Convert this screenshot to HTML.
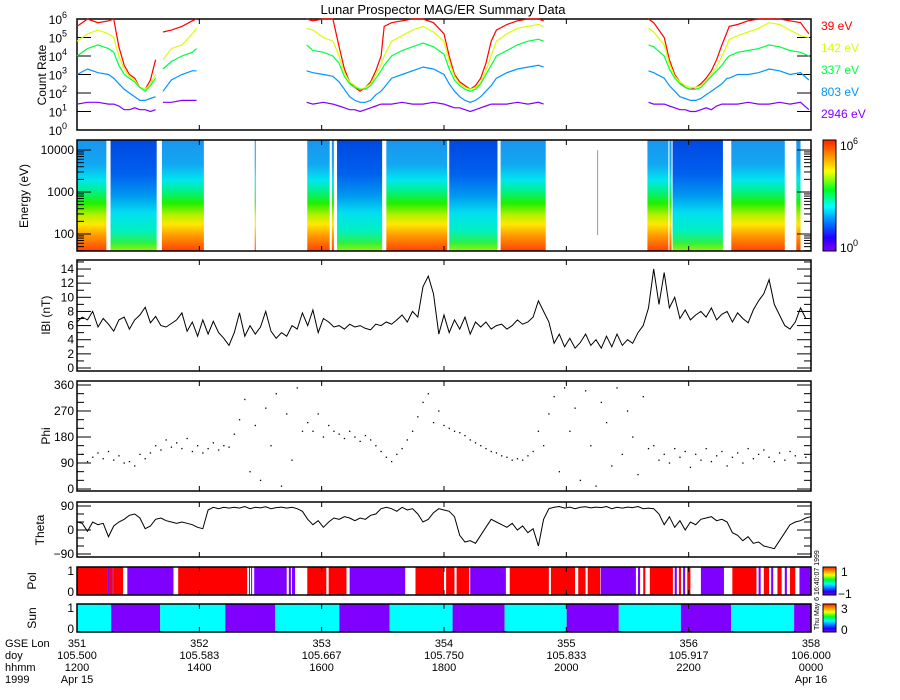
<!DOCTYPE html>
<html><head><meta charset="utf-8"><style>
html,body{margin:0;padding:0;background:#fff}
svg{display:block;font-family:"Liberation Sans",sans-serif}
</style></head><body>
<svg id="chart" width="900" height="700" viewBox="0 0 900 700" xmlns="http://www.w3.org/2000/svg">
<defs>
<linearGradient id="gLight" gradientUnits="userSpaceOnUse" x1="0" y1="140" x2="0" y2="251">
<stop offset="0" stop-color="#1a94ee"/><stop offset="0.22" stop-color="#12a8f2"/><stop offset="0.36" stop-color="#00e6f0"/><stop offset="0.46" stop-color="#00f08a"/><stop offset="0.57" stop-color="#20f000"/><stop offset="0.68" stop-color="#b8f000"/><stop offset="0.76" stop-color="#ffe800"/><stop offset="0.86" stop-color="#ff9a00"/><stop offset="1" stop-color="#ff4400"/>
</linearGradient>
<linearGradient id="gDark" gradientUnits="userSpaceOnUse" x1="0" y1="140" x2="0" y2="251">
<stop offset="0" stop-color="#0048e2"/><stop offset="0.3" stop-color="#0060ee"/><stop offset="0.5" stop-color="#0098f0"/><stop offset="0.66" stop-color="#00e0f0"/><stop offset="0.82" stop-color="#00f0c0"/><stop offset="0.93" stop-color="#30f040"/><stop offset="1" stop-color="#a0f000"/>
</linearGradient>
<linearGradient id="gRain" x1="0" y1="1" x2="0" y2="0">
<stop offset="0" stop-color="#8000ff"/><stop offset="0.12" stop-color="#2000ff"/><stop offset="0.28" stop-color="#0090ff"/><stop offset="0.4" stop-color="#00ffff"/><stop offset="0.55" stop-color="#00ff20"/><stop offset="0.72" stop-color="#ffff00"/><stop offset="0.86" stop-color="#ff9000"/><stop offset="1" stop-color="#ff2000"/>
</linearGradient>
</defs>
</svg>
<script>
// ---------- data ----------
const crTimes=[0,0.1,0.2,0.3,0.35,0.4,0.45,0.5,0.55,0.6,0.65,0.7,0.75,0.78,0.82,0.9,1.0,1.1,1.14,1.2,2.19,2.25,2.35,2.44,2.5,2.55,2.6,2.65,2.7,2.75,2.8,2.85,2.9,2.93,3.0,3.1,3.2,3.3,3.4,3.5,3.55,3.6,3.65,3.7,3.75,3.8,3.85,3.9,3.95,4.0,4.1,4.2,4.3,4.4,4.45,4.5,5.45,5.5,5.6,5.65,5.7,5.75,5.8,5.85,5.9,5.95,6.0,6.05,6.1,6.15,6.2,6.22,6.3,6.4,6.5,6.6,6.7,6.8,6.9,6.98];
const cr39=[5.6,6,5.8,5.9,6,4.5,3.5,3,2.8,2.3,2.2,2.7,3.8,null,5.3,5.4,5.6,5.9,6,null,6,5.9,6,6,4.5,3.3,2.6,2.3,2.1,2.3,2.6,3.2,4,5.6,5.8,5.9,6,6,5.8,5.2,4,3,2.6,2.4,2.2,2.4,2.8,3.6,4.8,5.4,5.7,5.9,6,6,5.9,null,6,5.8,5,3.8,3,2.6,2.3,2.2,2.3,2.5,2.8,3.2,3.8,4.6,5.3,5.6,5.7,5.9,6,6,6,5.9,5.8,5.2];
const cr142=[4.8,5.2,5.4,5.2,5,4,3.3,2.9,2.7,2.3,2.2,2.5,3,null,3.8,4.4,4.6,5.2,5.5,null,5.5,5.4,5,4.8,4,3.1,2.6,2.4,2.2,2.3,2.5,3,3.5,4,4.8,5.1,5.4,5.6,5.3,4.8,3.7,2.9,2.5,2.3,2.2,2.3,2.6,3.2,4,4.8,5.2,5.5,5.6,5.7,5.6,null,5.5,5.3,4.6,3.6,2.9,2.6,2.4,2.3,2.3,2.4,2.7,3,3.4,4,4.6,4.9,5.1,5.3,5.5,5.8,5.7,5.4,5.1,5.0];
const cr337=[4,4.4,4.6,4.4,4.2,3.5,3,2.8,2.6,2.3,2.1,2.4,2.8,null,3.3,3.7,4,4.2,4.4,null,4.6,4.3,4.2,4.0,3.6,2.9,2.5,2.3,2.2,2.2,2.4,2.8,3.2,3.5,4,4.3,4.5,4.7,4.5,4.1,3.3,2.7,2.4,2.2,2.1,2.2,2.5,3,3.5,4,4.3,4.6,4.8,4.9,4.8,null,4.6,4.5,4.0,3.3,2.8,2.5,2.3,2.2,2.2,2.3,2.6,2.9,3.2,3.5,3.9,4.0,4.2,4.3,4.4,4.6,4.5,4.3,4.2,4.0];
const cr803=[3,3.3,3.1,3.0,2.8,2.5,2.2,2.0,1.8,1.6,1.6,1.7,1.8,null,2.1,2.7,3,3.2,3.2,null,3.2,3.1,3.0,2.9,2.6,2.2,1.8,1.6,1.5,1.5,1.6,1.9,2.1,2.3,2.8,3.0,3.2,3.4,3.3,3.0,2.5,2.1,1.8,1.6,1.5,1.6,1.8,2.1,2.4,2.8,3.1,3.3,3.4,3.5,3.4,null,3.2,3.1,2.8,2.4,2.1,1.8,1.7,1.6,1.6,1.7,1.9,2.1,2.3,2.5,2.8,2.8,3.0,3.0,3.1,3.3,3.2,3.0,3.1,2.7];
const cr2946=[1.4,1.5,1.5,1.4,1.4,1.3,1.1,1.1,1.2,1.1,1.1,1.0,1.1,null,1.5,1.5,1.6,1.6,1.6,null,1.5,1.4,1.5,1.4,1.3,1.2,1.1,1.1,1.0,1.1,1.2,1.3,1.4,1.4,1.4,1.5,1.4,1.4,1.5,1.4,1.3,1.2,1.2,1.1,1.0,1.1,1.2,1.3,1.4,1.4,1.4,1.5,1.4,1.5,1.4,null,1.5,1.4,1.4,1.3,1.2,1.1,1.1,1.0,1.0,1.1,1.2,1.1,1.3,1.4,1.4,1.4,1.4,1.5,1.4,1.4,1.5,1.4,1.5,1.1];
const crSeries=[["39 eV","#ff0000",cr39],["142 eV","#d8ff00",cr142],["337 eV","#00ff40",cr337],["803 eV","#0096ff",cr803],["2946 eV","#8000ff",cr2946]];
const specStart=[0,0.32,0.81,1.695,2.196,2.43,2.48,2.95,3.55,4.04,4.96,5.44,5.65,5.68,6.24,6.86];
const specEnd=[0.28,0.76,1.21,1.705,2.41,2.45,2.91,3.53,4.01,4.47,4.97,5.64,5.67,6.16,6.75,6.9];
const specType=["light","dark","light","light","light","light","dark","light","dark","light","line","light","light","dark","light","light"];
const bStep=0.05;
const bVals=[6.5,7.2,6.8,8.0,5.8,7.0,6.2,5.2,6.8,7.2,5.5,6.8,7.5,8.6,6.4,7.3,6.0,5.8,6.3,6.8,7.8,5.2,6.5,4.5,6.8,4.8,6.6,5.0,4.2,3.2,5.0,7.8,4.5,6.0,4.8,5.8,8.0,5.2,4.2,5.0,4.5,6.0,5.5,7.8,6.0,8.2,5.0,7.0,6.5,5.8,6.0,5.5,6.2,5.8,6.0,5.6,5.4,6.2,6.0,6.5,6.2,6.8,7.5,6.5,8.0,7.2,11.5,13.0,10.5,4.8,7.5,5.0,6.8,5.5,7.2,4.8,6.5,5.8,6.5,5.5,6.0,6.2,5.5,6.0,6.8,6.2,6.5,7.2,9.5,8.0,6.5,3.5,4.8,3.0,4.2,2.8,3.6,4.8,3.2,4.0,2.8,4.5,3.0,4.8,3.2,4.0,3.5,5.0,6.0,8.5,14.0,9.0,13.5,8.5,10.0,7.0,8.2,6.8,7.5,8.0,7.2,8.5,6.8,7.6,8.0,6.5,7.8,7.0,6.4,8.2,9.5,10.5,12.5,9.0,7.5,6.0,5.5,6.5,8.5,7.0,7.0];
const phiVals=[100,120,95,110,125,105,130,100,115,90,95,80,120,105,125,150,135,170,145,160,140,175,130,150,125,140,160,135,150,145,190,240,310,60,220,30,280,150,330,10,260,100,350,200,230,200,260,180,220,200,190,175,200,180,165,185,170,150,130,110,95,120,140,170,200,250,300,330,230,270,220,210,200,195,185,170,160,150,140,130,125,115,110,100,105,100,115,130,200,150,260,320,60,350,200,280,30,340,150,10,300,230,80,350,120,270,180,50,320,140,150,100,120,90,140,110,130,75,120,100,140,95,115,130,80,110,125,90,140,105,120,135,110,95,125,100,130,115,90,110,120];
const thetaVals=[30,25,-5,30,20,25,-25,15,30,40,55,60,45,5,15,40,45,35,30,25,30,25,20,10,5,75,85,80,85,82,85,82,88,80,85,83,87,80,84,86,82,85,80,70,40,20,35,10,30,45,40,50,45,35,45,40,55,60,80,85,80,70,85,75,80,60,30,40,65,80,75,70,50,-20,-45,-40,-50,-20,10,40,30,20,10,25,0,15,-10,5,-60,40,80,85,88,82,86,80,85,87,83,86,84,88,80,85,82,86,84,88,80,82,80,60,20,50,10,35,0,30,20,40,45,50,35,40,30,-10,-20,-40,-25,-50,-45,-60,-65,-70,-40,-10,20,30,35,45,50];
const polStart=[0,0.29,0.305,0.34,0.35,0.41,0.48,0.965,1.64,1.66,1.69,2.02,2.05,2.196,2.40,2.6,3.228,3.52,3.62,3.75,4.127,4.52,4.78,4.87,4.995,5.35,5.40,5.463,5.70,5.74,5.78,5.82,5.95,6.25,6.50,6.55,6.62,6.68,6.75,6.80,6.89];
const polEnd=[0.29,0.305,0.34,0.35,0.41,0.44,0.92,1.623,1.65,1.67,2.0,2.04,2.08,2.378,2.57,3.13,3.5,3.6,3.74,4.09,4.5,4.75,4.85,4.99,5.33,5.37,5.42,5.683,5.72,5.76,5.80,5.85,6.17,6.48,6.52,6.60,6.64,6.72,6.77,6.85,7];
const polVals=[1,-1,1,-1,1,1,-1,1,-1,-1,-1,-1,-1,1,1,-1,1,1,1,-1,1,1,1,1,-1,-1,1,1,-1,1,-1,1,-1,1,-1,1,-1,1,-1,1,-1];
const sunBounds=[0,0.325,0.793,1.414,1.891,2.502,2.98,3.582,4.078,4.67,5.167,5.759,6.237,6.839,7];
const sunVals=[1,0,1,0,1,0,1,0,1,0,1,0,1,0];
const tickIdx=[0,1,2,3,4,5,6];
const lonLabels=["351","352","353","354","355","356","358"];
const doyLabels=["105.500","105.583","105.667","105.750","105.833","105.917","106.000"];
const hhmmLabels=["1200","1400","1600","1800","2000","2200","0000"];
const dateLabels=["Apr 15","","","","","","Apr 16"];

// ---------- helpers ----------
const svg=document.getElementById('chart');
const NS='http://www.w3.org/2000/svg';
const X0=77,X1=811;
const xs=t=>X0+t/7*(X1-X0);
function el(tag,attrs,parent){const e=document.createElementNS(NS,tag);for(const k in attrs)e.setAttribute(k,attrs[k]);(parent||svg).appendChild(e);return e;}
function txt(s,x,y,opts,name){const e=el('text',Object.assign({x:x,y:y,'font-size':12,fill:'#000'},opts||{}));e.textContent=s;


return e;}
function gline(x1,y1,x2,y2,g){return el('line',{x1:x1,y1:y1,x2:x2,y2:y2,stroke:'#000','stroke-width':1},g);}

const panels={cr:[19,130],sp:[140,251],b:[260,371],phi:[381,491],th:[502,557],pol:[567,595],sun:[604,632]};
function frame(name,y0,y1){
 const g=el('g',{});
 
 
 el('rect',{x:X0,y:y0,width:X1-X0,height:y1-y0,fill:'none',stroke:'#000','stroke-width':1.5},g);
 tickIdx.forEach(i=>{const x=xs(i*7/6);gline(x,y0,x,y0+5,g);gline(x,y1,x,y1-5,g);});
 return g;
}
function yTicks(g,y0,y1,vals,yf,len){vals.forEach(v=>{const y=yf(v);if(y<y0-0.5||y>y1+0.5)return;gline(X0,y,X0+len,y,g);gline(X1,y,X1-len,y,g);});}

// title
txt("Lunar Prospector MAG/ER Summary Data",443,14,{'text-anchor':'middle','font-size':13},'chart-title');

// ---------- count rate ----------
(function(){
 const [y0,y1]=panels.cr; const yf=v=>y1-v*(y1-y0)/6;
 const g=frame('count-rate',y0,y1);
 yTicks(g,y0,y1,[0,1,2,3,4,5,6],yf,14);
 [0,1,2,3,4,5,6].forEach(d=>{const t=txt("10",62,yf(d)+5,{'text-anchor':'end'},'count-rate-tick-label');const s=el('text',{x:62,y:yf(d)-1,'font-size':9});s.textContent=String(d);
 
 });
 txt("Count Rate",46,75,{'text-anchor':'middle',transform:'rotate(-90 46 75)'},'count-rate-axis-title');
 crSeries.forEach((s,k)=>{
  let d='',pen=false;
  crTimes.forEach((t,i)=>{const v=s[2][i];if(v===null){pen=false;return;}d+=(pen?'L':'M')+xs(t).toFixed(1)+' '+yf(v).toFixed(1);pen=true;});
  const p=el('path',{d:d,fill:'none',stroke:s[1],'stroke-width':1.2});
  
  
  const lt=txt(s[0],821,30+k*22,{fill:s[1]},'legend-entry');
 });
})();

// ---------- spectrogram ----------
(function(){
 const [y0,y1]=panels.sp; const yf=lg=>192-(lg-3)*42;
 specStart.forEach((s,i)=>{
  const tp=specType[i];
  const r=el('rect',{x:xs(s),y:y0,width:Math.max(1,xs(specEnd[i])-xs(s)),height:y1-y0,fill:tp==='dark'?'url(#gDark)':(tp==='line'?'#a0a0a0':'url(#gLight)')});
  if(tp==='line'){r.setAttribute('y',y0+10);r.setAttribute('height',85);}
  
  
 });
 const g=frame('spectrogram',y0,y1);
 const minors=[];[1,2,3,4].forEach(d=>[2,3,4,5,6,7,8,9].forEach(m=>minors.push(d+Math.log10(m))));
 yTicks(g,y0,y1,[2,3,4],yf,14);yTicks(g,y0,y1,minors,yf,7);
 txt("10000",74,yf(4)+4,{'text-anchor':'end'},'energy-tick-label');
 txt("1000",74,yf(3)+4,{'text-anchor':'end'},'energy-tick-label');
 txt("100",74,yf(2)+4,{'text-anchor':'end'},'energy-tick-label');
 txt("Energy (eV)",28,196,{'text-anchor':'middle',transform:'rotate(-90 28 196)'},'energy-axis-title');
 const cb=el('rect',{x:823,y:y0,width:13,height:y1-y0,fill:'url(#gRain)',stroke:'#000','stroke-width':1});
 
 
 txt("10",840,y0+10,{},'colorbar-max-label');txt("6",853,y0+4,{'font-size':9},'colorbar-max-exponent');
 txt("10",840,y1+1,{},'colorbar-min-label');txt("0",853,y1-5,{'font-size':9},'colorbar-min-exponent');
})();

// ---------- |B| ----------
(function(){
 const [y0,y1]=panels.b; const yf=v=>368-v*7.07;
 const g=frame('b-magnitude',y0,y1);
 const maj=[0,2,4,6,8,10,12,14],mn=[1,3,5,7,9,11,13,15];
 yTicks(g,y0,y1,maj,yf,14);yTicks(g,y0,y1,mn,yf,7);
 maj.forEach(v=>txt(String(v),74,yf(v)+4,{'text-anchor':'end'},'b-tick-label'));
 txt("lBl (nT)",50,315,{'text-anchor':'middle',transform:'rotate(-90 50 315)'},'b-axis-title');
 const p=el('path',{d:bVals.map((v,i)=>(i?'L':'M')+xs(i*bStep).toFixed(1)+' '+yf(v).toFixed(1)).join(''),fill:'none',stroke:'#000','stroke-width':1});
 
 
})();

// ---------- Phi ----------
(function(){
 const [y0,y1]=panels.phi; const yf=v=>489-v*104/360;
 const g=frame('phi',y0,y1);
 yTicks(g,y0,y1,[0,90,180,270,360],yf,14);yTicks(g,y0,y1,[30,60,120,150,210,240,300,330],yf,7);
 [0,90,180,270,360].forEach(v=>txt(String(v),74,yf(v)+4,{'text-anchor':'end'},'phi-tick-label'));
 txt("Phi",50,436,{'text-anchor':'middle',transform:'rotate(-90 50 436)'},'phi-axis-title');
 phiVals.forEach((v,i)=>{if(v===null)return;const r=el('rect',{x:xs(i*bStep)-0.6,y:yf(v)-0.6,width:1.3,height:1.3,fill:'#000'});
 
 });
})();

// ---------- Theta ----------
(function(){
 const [y0,y1]=panels.th; const yf=v=>530-v*24/90;
 const g=frame('theta',y0,y1);
 yTicks(g,y0,y1,[-90,0,90],yf,14);yTicks(g,y0,y1,[-60,-30,30,60],yf,7);
 [-90,0,90].forEach(v=>txt(v<0?"\u221290":String(v),74,yf(v)+4,{'text-anchor':'end'},'theta-tick-label'));
 txt("Theta",44,530,{'text-anchor':'middle',transform:'rotate(-90 44 530)'},'theta-axis-title');
 const p=el('path',{d:thetaVals.map((v,i)=>(i?'L':'M')+xs(i*bStep).toFixed(1)+' '+yf(v).toFixed(1)).join(''),fill:'none',stroke:'#000','stroke-width':1});
 
 
})();

// ---------- Pol ----------
(function(){
 const [y0,y1]=panels.pol;
 polStart.forEach((s,i)=>{const r=el('rect',{x:xs(s),y:y0,width:Math.max(1,xs(polEnd[i])-xs(s)),height:y1-y0,fill:polVals[i]>0?'#ff0000':'#7f00ff'});
 
 });
 frame('polarity',y0,y1);
 txt("1",74,575,{'text-anchor':'end'},'pol-tick-label');txt("0",74,596,{'text-anchor':'end'},'pol-tick-label');
 txt("Pol",36,581,{'text-anchor':'middle',transform:'rotate(-90 36 581)'},'pol-axis-title');
 const cb=el('rect',{x:823,y:y0,width:13,height:y1-y0,fill:'url(#gRain)',stroke:'#000','stroke-width':1});
 
 
 txt("1",841,576,{},'pol-colorbar-max');txt("\u22121",838,598,{},'pol-colorbar-min');
})();

// ---------- Sun ----------
(function(){
 const [y0,y1]=panels.sun;
 sunVals.forEach((v,i)=>{const r=el('rect',{x:xs(sunBounds[i]),y:y0,width:xs(sunBounds[i+1])-xs(sunBounds[i]),height:y1-y0,fill:v?'#00ffff':'#7f00ff'});
 
 });
 frame('sun',y0,y1);
 txt("1",74,612,{'text-anchor':'end'},'sun-tick-label');txt("0",74,633,{'text-anchor':'end'},'sun-tick-label');
 txt("Sun",36,618,{'text-anchor':'middle',transform:'rotate(-90 36 618)'},'sun-axis-title');
 const cb=el('rect',{x:823,y:y0,width:13,height:y1-y0,fill:'url(#gRain)',stroke:'#000','stroke-width':1});
 
 
 txt("3",841,613,{},'sun-colorbar-max');txt("0",841,634,{},'sun-colorbar-min');
 txt("Thu May 6 16:40:07 1999",0,0,{'font-size':7,transform:'translate(819 630) rotate(-90)'},'timestamp');
})();

// ---------- time axis labels ----------
txt("GSE Lon",5,647,{'font-size':11},'axis-row-label-lon');
txt("doy",5,659,{'font-size':11},'axis-row-label-doy');
txt("hhmm",5,671,{'font-size':11},'axis-row-label-hhmm');
txt("1999",5,683,{'font-size':11},'axis-row-label-year');
tickIdx.forEach(i=>{const x=xs(i*7/6);
 txt(lonLabels[i],x,647,{'text-anchor':'middle','font-size':11},'lon-tick-label');
 txt(doyLabels[i],x,659,{'text-anchor':'middle','font-size':11},'doy-tick-label');
 txt(hhmmLabels[i],x,671,{'text-anchor':'middle','font-size':11},'hhmm-tick-label');
 if(dateLabels[i])txt(dateLabels[i],x,683,{'text-anchor':'middle','font-size':11},'date-tick-label');
});
</script>
</body></html>
